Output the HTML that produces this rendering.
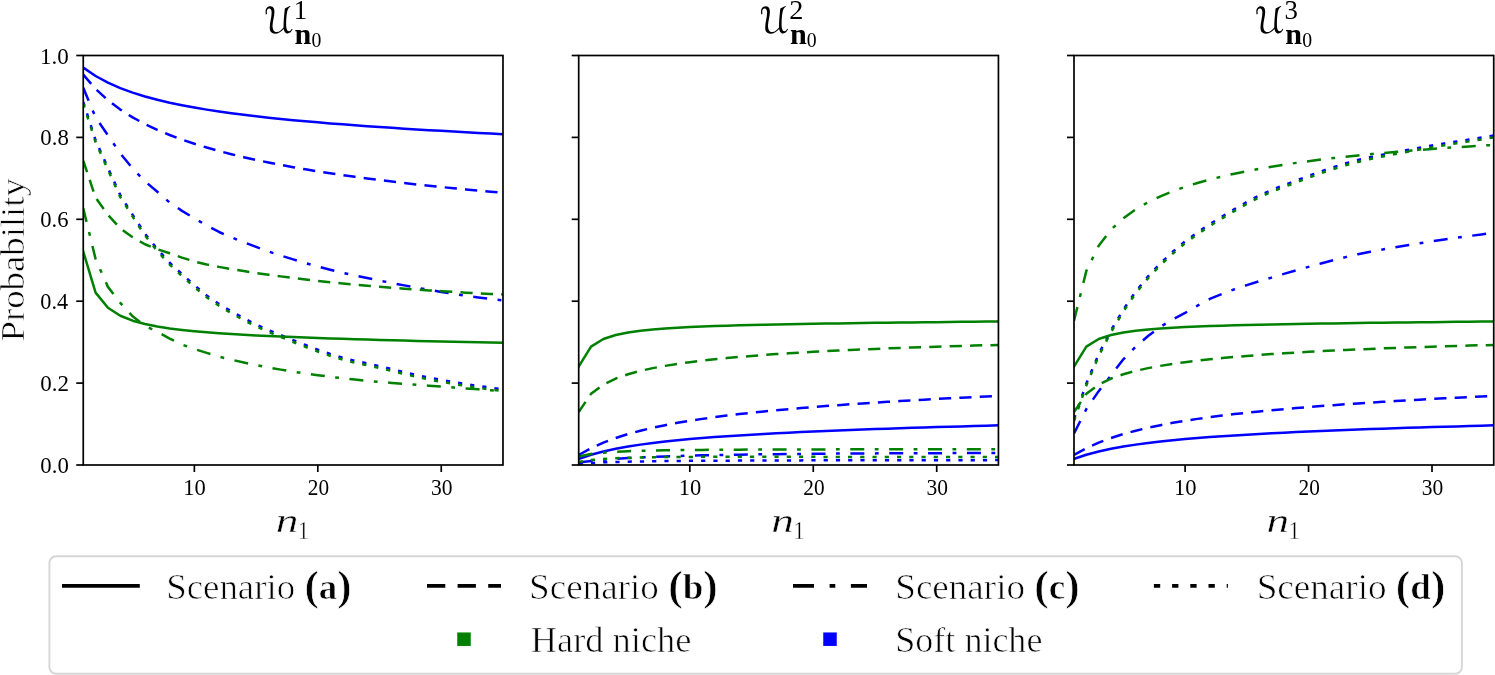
<!DOCTYPE html>
<html><head><meta charset="utf-8"><style>html,body{margin:0;padding:0;background:#fff;}svg{display:block;will-change:transform;}</style></head>
<body>
<svg width="1495" height="675" viewBox="0 0 1495 675">
<rect width="100%" height="100%" fill="#fff"/>
<defs>
<clipPath id="c0"><rect x="83.25" y="55.5" width="419.73" height="409.5"/></clipPath>
<clipPath id="c1"><rect x="578.70" y="55.5" width="419.73" height="409.5"/></clipPath>
<clipPath id="c2"><rect x="1074.00" y="55.5" width="419.73" height="409.5"/></clipPath>
</defs>
<g clip-path="url(#c0)" fill="none" stroke-width="2.5" stroke-linejoin="round">
<path d="M83.25,67.65 L95.59,76.02 L107.94,82.67 L120.28,88.10 L132.63,92.62 L144.97,96.47 L157.32,99.79 L169.67,102.70 L182.01,105.27 L194.36,107.57 L206.70,109.64 L219.05,111.52 L231.39,113.25 L243.74,114.83 L256.08,116.30 L268.43,117.67 L280.77,118.95 L293.12,120.15 L305.46,121.29 L317.81,122.36 L330.15,123.38 L342.50,124.35 L354.84,125.27 L367.19,126.16 L379.53,127.01 L391.88,127.83 L404.22,128.63 L416.56,129.39 L428.91,130.13 L441.25,130.84 L453.60,131.54 L465.94,132.22 L478.29,132.88 L490.64,133.52 L502.98,134.14" stroke="#0000ff" stroke-linecap="square"/>
<path d="M83.25,74.56 L95.59,88.99 L107.94,100.34 L120.28,109.60 L132.63,117.38 L144.97,124.04 L157.32,129.86 L169.67,135.00 L182.01,139.60 L194.36,143.76 L206.70,147.54 L219.05,151.01 L231.39,154.21 L243.74,157.17 L256.08,159.93 L268.43,162.50 L280.77,164.92 L293.12,167.20 L305.46,169.34 L317.81,171.37 L330.15,173.29 L342.50,175.11 L354.84,176.85 L367.19,178.50 L379.53,180.08 L391.88,181.59 L404.22,183.04 L416.56,184.42 L428.91,185.75 L441.25,187.03 L453.60,188.25 L465.94,189.43 L478.29,190.57 L490.64,191.67 L502.98,192.73" stroke="#0000ff" stroke-dasharray="12.2 8.2" stroke-linecap="butt"/>
<path d="M83.25,87.85 L95.59,117.33 L107.94,135.35 L120.28,153.37 L132.63,168.52 L144.97,181.22 L157.32,191.76 L169.67,202.51 L182.01,210.86 L194.36,218.28 L206.70,225.47 L219.05,231.98 L231.39,237.29 L243.74,242.24 L256.08,246.95 L268.43,251.40 L280.77,255.57 L293.12,259.43 L305.46,263.04 L317.81,266.46 L330.15,269.69 L342.50,272.70 L354.84,275.50 L367.19,278.08 L379.53,280.57 L391.88,283.00 L404.22,285.36 L416.56,287.64 L428.91,289.82 L441.25,291.90 L453.60,293.87 L465.94,295.71 L478.29,297.40 L490.64,298.95 L502.98,300.34" stroke="#0000ff" stroke-dasharray="14 10.5 3.8 10.55" stroke-linecap="butt"/>
<path d="M83.25,101.77 L95.59,140.27 L107.94,167.91 L120.28,195.14 L132.63,214.80 L144.97,233.63 L157.32,249.19 L169.67,262.71 L182.01,274.17 L194.36,285.23 L206.70,295.47 L219.05,303.99 L231.39,311.42 L243.74,318.26 L256.08,324.53 L268.43,330.08 L280.77,335.13 L293.12,340.14 L305.46,345.03 L317.81,349.65 L330.15,353.89 L342.50,357.72 L354.84,360.87 L367.19,363.33 L379.53,366.15 L391.88,369.14 L404.22,372.16 L416.56,375.04 L428.91,377.66 L441.25,379.93 L453.60,382.08 L465.94,384.10 L478.29,385.98 L490.64,387.70 L502.98,389.24" stroke="#0000ff" stroke-dasharray="4.2 8.05" stroke-linecap="butt"/>
<path d="M83.25,251.52 L95.59,292.65 L107.94,307.80 L120.28,315.74 L132.63,320.67 L144.97,324.05 L157.32,326.54 L169.67,328.46 L182.01,330.00 L194.36,331.27 L206.70,332.35 L219.05,333.28 L231.39,334.09 L243.74,334.82 L256.08,335.47 L268.43,336.06 L280.77,336.61 L293.12,337.11 L305.46,337.59 L317.81,338.03 L330.15,338.45 L342.50,338.84 L354.84,339.22 L367.19,339.58 L379.53,339.93 L391.88,340.26 L404.22,340.58 L416.56,340.90 L428.91,341.20 L441.25,341.49 L453.60,341.78 L465.94,342.06 L478.29,342.34 L490.64,342.61 L502.98,342.87" stroke="#008000" stroke-linecap="square"/>
<path d="M83.25,160.62 L95.59,197.68 L107.94,214.80 L120.28,228.31 L132.63,237.32 L144.97,244.28 L157.32,249.19 L169.67,253.29 L182.01,257.60 L194.36,261.48 L206.70,264.41 L219.05,266.88 L231.39,269.06 L243.74,271.08 L256.08,272.96 L268.43,274.72 L280.77,276.37 L293.12,277.94 L305.46,279.45 L317.81,280.89 L330.15,282.26 L342.50,283.54 L354.84,284.71 L367.19,285.77 L379.53,286.78 L391.88,287.74 L404.22,288.67 L416.56,289.55 L428.91,290.39 L441.25,291.19 L453.60,291.95 L465.94,292.65 L478.29,293.31 L490.64,293.93 L502.98,294.44" stroke="#008000" stroke-dasharray="12.2 8.2" stroke-linecap="butt"/>
<path d="M83.25,208.24 L95.59,259.02 L107.94,286.87 L120.28,302.84 L132.63,316.35 L144.97,325.77 L157.32,331.91 L169.67,338.56 L182.01,344.61 L194.36,349.06 L206.70,352.92 L219.05,356.64 L231.39,359.70 L243.74,362.49 L256.08,365.07 L268.43,367.45 L280.77,369.64 L293.12,371.63 L305.46,373.48 L317.81,375.19 L330.15,376.79 L342.50,378.26 L354.84,379.61 L367.19,380.83 L379.53,381.92 L391.88,382.92 L404.22,383.85 L416.56,384.75 L428.91,385.66 L441.25,386.59 L453.60,387.52 L465.94,388.43 L478.29,389.33 L490.64,390.21 L502.98,391.09" stroke="#008000" stroke-dasharray="14 10.5 3.8 10.55" stroke-linecap="butt"/>
<path d="M83.25,103.62 L95.59,142.11 L107.94,169.75 L120.28,196.98 L132.63,216.64 L144.97,235.48 L157.32,251.04 L169.67,264.55 L182.01,276.02 L194.36,287.07 L206.70,297.31 L219.05,305.83 L231.39,313.26 L243.74,320.11 L256.08,326.38 L268.43,331.92 L280.77,336.98 L293.12,341.99 L305.46,346.87 L317.81,351.49 L330.15,355.74 L342.50,359.56 L354.84,362.71 L367.19,365.17 L379.53,367.99 L391.88,370.98 L404.22,374.00 L416.56,376.89 L428.91,379.50 L441.25,381.78 L453.60,383.92 L465.94,385.95 L478.29,387.82 L490.64,389.54 L502.98,391.09" stroke="#008000" stroke-dasharray="4.2 8.05" stroke-linecap="butt"/>
</g>
<g clip-path="url(#c1)" fill="none" stroke-width="2.5" stroke-linejoin="round">
<path d="M578.70,458.90 L591.05,454.77 L603.39,451.48 L615.74,448.79 L628.08,446.54 L640.43,444.62 L652.77,442.96 L665.12,441.51 L677.46,440.22 L689.81,439.06 L702.15,438.02 L714.50,437.06 L726.84,436.19 L739.19,435.38 L751.53,434.64 L763.88,433.94 L776.22,433.28 L788.57,432.67 L800.91,432.08 L813.26,431.53 L825.60,431.00 L837.95,430.50 L850.29,430.02 L862.63,429.56 L874.98,429.11 L887.33,428.69 L899.67,428.27 L912.02,427.87 L924.36,427.48 L936.71,427.10 L949.05,426.74 L961.39,426.38 L973.74,426.03 L986.09,425.69 L998.43,425.36" stroke="#0000ff" stroke-linecap="square"/>
<path d="M578.70,455.00 L591.05,448.17 L603.39,442.61 L615.74,437.99 L628.08,434.07 L640.43,430.70 L652.77,427.76 L665.12,425.16 L677.46,422.84 L689.81,420.76 L702.15,418.87 L714.50,417.14 L726.84,415.55 L739.19,414.08 L751.53,412.72 L763.88,411.44 L776.22,410.25 L788.57,409.12 L800.91,408.06 L813.26,407.05 L825.60,406.09 L837.95,405.17 L850.29,404.29 L862.63,403.45 L874.98,402.64 L887.33,401.86 L899.67,401.11 L912.02,400.38 L924.36,399.67 L936.71,398.99 L949.05,398.32 L961.39,397.68 L973.74,397.04 L986.09,396.43 L998.43,395.83" stroke="#0000ff" stroke-dasharray="12.2 8.2" stroke-linecap="butt"/>
<path d="M578.70,462.43 L591.05,460.96 L603.39,459.79 L615.74,458.85 L628.08,458.07 L640.43,457.43 L652.77,456.88 L665.12,456.41 L677.46,456.01 L689.81,455.66 L702.15,455.35 L714.50,455.09 L726.84,454.85 L739.19,454.64 L751.53,454.45 L763.88,454.28 L776.22,454.14 L788.57,454.00 L800.91,453.88 L813.26,453.77 L825.60,453.68 L837.95,453.59 L850.29,453.51 L862.63,453.44 L874.98,453.38 L887.33,453.32 L899.67,453.27 L912.02,453.23 L924.36,453.18 L936.71,453.15 L949.05,453.12 L961.39,453.09 L973.74,453.06 L986.09,453.04 L998.43,453.03" stroke="#0000ff" stroke-dasharray="14 10.5 3.8 10.55" stroke-linecap="butt"/>
<path d="M578.70,463.67 L591.05,462.90 L603.39,462.36 L615.74,461.97 L628.08,461.67 L640.43,461.44 L652.77,461.25 L665.12,461.10 L677.46,460.97 L689.81,460.87 L702.15,460.78 L714.50,460.71 L726.84,460.64 L739.19,460.58 L751.53,460.53 L763.88,460.49 L776.22,460.45 L788.57,460.41 L800.91,460.38 L813.26,460.35 L825.60,460.33 L837.95,460.31 L850.29,460.28 L862.63,460.26 L874.98,460.25 L887.33,460.23 L899.67,460.21 L912.02,460.20 L924.36,460.19 L936.71,460.17 L949.05,460.16 L961.39,460.15 L973.74,460.14 L986.09,460.13 L998.43,460.12" stroke="#0000ff" stroke-dasharray="4.2 8.05" stroke-linecap="butt"/>
<path d="M578.70,366.58 L591.05,346.63 L603.39,339.04 L615.74,335.02 L628.08,332.52 L640.43,330.79 L652.77,329.52 L665.12,328.54 L677.46,327.76 L689.81,327.12 L702.15,326.57 L714.50,326.11 L726.84,325.70 L739.19,325.34 L751.53,325.02 L763.88,324.72 L776.22,324.46 L788.57,324.21 L800.91,323.98 L813.26,323.77 L825.60,323.57 L837.95,323.38 L850.29,323.20 L862.63,323.03 L874.98,322.86 L887.33,322.70 L899.67,322.55 L912.02,322.41 L924.36,322.27 L936.71,322.13 L949.05,322.00 L961.39,321.87 L973.74,321.74 L986.09,321.62 L998.43,321.50" stroke="#008000" stroke-linecap="square"/>
<path d="M578.70,411.98 L591.05,393.83 L603.39,384.51 L615.74,378.53 L628.08,374.21 L640.43,370.86 L652.77,368.14 L665.12,365.86 L677.46,363.89 L689.81,362.18 L702.15,360.65 L714.50,359.29 L726.84,358.06 L739.19,356.94 L751.53,355.92 L763.88,354.97 L776.22,354.10 L788.57,353.29 L800.91,352.54 L813.26,351.83 L825.60,351.17 L837.95,350.55 L850.29,349.97 L862.63,349.42 L874.98,348.90 L887.33,348.41 L899.67,347.94 L912.02,347.50 L924.36,347.08 L936.71,346.68 L949.05,346.29 L961.39,345.93 L973.74,345.58 L986.09,345.24 L998.43,344.92" stroke="#008000" stroke-dasharray="12.2 8.2" stroke-linecap="butt"/>
<path d="M578.70,456.49 L591.05,454.00 L603.39,452.63 L615.74,451.78 L628.08,451.22 L640.43,450.83 L652.77,450.54 L665.12,450.32 L677.46,450.15 L689.81,450.01 L702.15,449.90 L714.50,449.80 L726.84,449.72 L739.19,449.66 L751.53,449.60 L763.88,449.55 L776.22,449.51 L788.57,449.47 L800.91,449.44 L813.26,449.41 L825.60,449.38 L837.95,449.36 L850.29,449.33 L862.63,449.31 L874.98,449.30 L887.33,449.28 L899.67,449.26 L912.02,449.25 L924.36,449.24 L936.71,449.22 L949.05,449.21 L961.39,449.20 L973.74,449.19 L986.09,449.18 L998.43,449.17" stroke="#008000" stroke-dasharray="14 10.5 3.8 10.55" stroke-linecap="butt"/>
<path d="M578.70,461.95 L591.05,460.09 L603.39,458.96 L615.74,458.23 L628.08,457.76 L640.43,457.44 L652.77,457.22 L665.12,457.08 L677.46,456.97 L689.81,456.91 L702.15,456.86 L714.50,456.83 L726.84,456.82 L739.19,456.81 L751.53,456.81 L763.88,456.82 L776.22,456.82 L788.57,456.84 L800.91,456.85 L813.26,456.86 L825.60,456.88 L837.95,456.89 L850.29,456.91 L862.63,456.93 L874.98,456.94 L887.33,456.96 L899.67,456.98 L912.02,456.99 L924.36,457.01 L936.71,457.03 L949.05,457.04 L961.39,457.06 L973.74,457.07 L986.09,457.09 L998.43,457.10" stroke="#008000" stroke-dasharray="4.2 8.05" stroke-linecap="butt"/>
</g>
<g clip-path="url(#c2)" fill="none" stroke-width="2.5" stroke-linejoin="round">
<path d="M1074.00,458.90 L1086.35,454.77 L1098.69,451.48 L1111.04,448.79 L1123.38,446.54 L1135.72,444.62 L1148.07,442.96 L1160.41,441.51 L1172.76,440.22 L1185.11,439.06 L1197.45,438.02 L1209.80,437.06 L1222.14,436.19 L1234.49,435.38 L1246.83,434.64 L1259.17,433.94 L1271.52,433.28 L1283.87,432.67 L1296.21,432.08 L1308.56,431.53 L1320.90,431.00 L1333.24,430.50 L1345.59,430.02 L1357.93,429.56 L1370.28,429.11 L1382.62,428.69 L1394.97,428.27 L1407.32,427.87 L1419.66,427.48 L1432.01,427.10 L1444.35,426.74 L1456.69,426.38 L1469.04,426.03 L1481.38,425.69 L1493.73,425.36" stroke="#0000ff" stroke-linecap="square"/>
<path d="M1074.00,455.00 L1086.35,448.17 L1098.69,442.61 L1111.04,437.99 L1123.38,434.07 L1135.72,430.70 L1148.07,427.76 L1160.41,425.16 L1172.76,422.84 L1185.11,420.76 L1197.45,418.87 L1209.80,417.14 L1222.14,415.55 L1234.49,414.08 L1246.83,412.72 L1259.17,411.44 L1271.52,410.25 L1283.87,409.12 L1296.21,408.06 L1308.56,407.05 L1320.90,406.09 L1333.24,405.17 L1345.59,404.29 L1357.93,403.45 L1370.28,402.64 L1382.62,401.86 L1394.97,401.11 L1407.32,400.38 L1419.66,399.67 L1432.01,398.99 L1444.35,398.32 L1456.69,397.68 L1469.04,397.04 L1481.38,396.43 L1493.73,395.83" stroke="#0000ff" stroke-dasharray="12.2 8.2" stroke-linecap="butt"/>
<path d="M1074.00,433.47 L1086.35,409.06 L1098.69,391.15 L1111.04,375.29 L1123.38,359.34 L1135.72,346.77 L1148.07,336.05 L1160.41,326.91 L1172.76,319.29 L1185.11,312.95 L1197.45,305.70 L1209.80,298.95 L1222.14,293.81 L1234.49,289.25 L1246.83,285.13 L1259.17,281.30 L1271.52,277.60 L1283.87,273.90 L1296.21,270.29 L1308.56,266.83 L1320.90,263.50 L1333.24,260.27 L1345.59,257.12 L1357.93,254.24 L1370.28,251.77 L1382.62,249.47 L1394.97,247.32 L1407.32,245.27 L1419.66,243.29 L1432.01,241.36 L1444.35,239.52 L1456.69,237.75 L1469.04,236.05 L1481.38,234.40 L1493.73,232.81" stroke="#0000ff" stroke-dasharray="14 10.5 3.8 10.55" stroke-linecap="butt"/>
<path d="M1074.00,419.14 L1086.35,383.50 L1098.69,354.22 L1111.04,330.13 L1123.38,309.58 L1135.72,291.41 L1148.07,276.35 L1160.41,263.27 L1172.76,251.78 L1185.11,241.24 L1197.45,232.40 L1209.80,224.17 L1222.14,216.51 L1234.49,209.09 L1246.83,202.04 L1259.17,195.49 L1271.52,190.00 L1283.87,185.18 L1296.21,180.53 L1308.56,175.91 L1320.90,171.40 L1333.24,167.16 L1345.59,163.33 L1357.93,160.07 L1370.28,157.21 L1382.62,154.63 L1394.97,152.24 L1407.32,149.97 L1419.66,147.76 L1432.01,145.56 L1444.35,143.49 L1456.69,141.49 L1469.04,139.53 L1481.38,137.57 L1493.73,135.56" stroke="#0000ff" stroke-dasharray="4.2 8.05" stroke-linecap="butt"/>
<path d="M1074.00,366.58 L1086.35,346.63 L1098.69,339.04 L1111.04,335.02 L1123.38,332.52 L1135.72,330.79 L1148.07,329.52 L1160.41,328.54 L1172.76,327.76 L1185.11,327.12 L1197.45,326.57 L1209.80,326.11 L1222.14,325.70 L1234.49,325.34 L1246.83,325.02 L1259.17,324.72 L1271.52,324.46 L1283.87,324.21 L1296.21,323.98 L1308.56,323.77 L1320.90,323.57 L1333.24,323.38 L1345.59,323.20 L1357.93,323.03 L1370.28,322.86 L1382.62,322.70 L1394.97,322.55 L1407.32,322.41 L1419.66,322.27 L1432.01,322.13 L1444.35,322.00 L1456.69,321.87 L1469.04,321.74 L1481.38,321.62 L1493.73,321.50" stroke="#008000" stroke-linecap="square"/>
<path d="M1074.00,411.98 L1086.35,393.83 L1098.69,384.51 L1111.04,378.53 L1123.38,374.21 L1135.72,370.86 L1148.07,368.14 L1160.41,365.86 L1172.76,363.89 L1185.11,362.18 L1197.45,360.65 L1209.80,359.29 L1222.14,358.06 L1234.49,356.94 L1246.83,355.92 L1259.17,354.97 L1271.52,354.10 L1283.87,353.29 L1296.21,352.54 L1308.56,351.83 L1320.90,351.17 L1333.24,350.55 L1345.59,349.97 L1357.93,349.42 L1370.28,348.90 L1382.62,348.41 L1394.97,347.94 L1407.32,347.50 L1419.66,347.08 L1432.01,346.68 L1444.35,346.29 L1456.69,345.93 L1469.04,345.58 L1481.38,345.24 L1493.73,344.92" stroke="#008000" stroke-dasharray="12.2 8.2" stroke-linecap="butt"/>
<path d="M1074.00,320.74 L1086.35,270.90 L1098.69,245.70 L1111.04,229.68 L1123.38,218.20 L1135.72,209.36 L1148.07,202.24 L1160.41,196.30 L1172.76,191.24 L1185.11,186.85 L1197.45,182.99 L1209.80,179.55 L1222.14,176.47 L1234.49,173.68 L1246.83,171.14 L1259.17,168.82 L1271.52,166.68 L1283.87,164.71 L1296.21,162.88 L1308.56,161.18 L1320.90,159.60 L1333.24,158.11 L1345.59,156.72 L1357.93,155.42 L1370.28,154.19 L1382.62,153.03 L1394.97,151.93 L1407.32,150.89 L1419.66,149.91 L1432.01,148.97 L1444.35,148.08 L1456.69,147.23 L1469.04,146.43 L1481.38,145.65 L1493.73,144.92" stroke="#008000" stroke-dasharray="14 10.5 3.8 10.55" stroke-linecap="butt"/>
<path d="M1074.00,420.98 L1086.35,385.34 L1098.69,356.06 L1111.04,331.98 L1123.38,311.42 L1135.72,293.25 L1148.07,278.20 L1160.41,265.12 L1172.76,253.62 L1185.11,243.09 L1197.45,234.24 L1209.80,226.02 L1222.14,218.35 L1234.49,210.94 L1246.83,203.89 L1259.17,197.34 L1271.52,191.85 L1283.87,187.02 L1296.21,182.38 L1308.56,177.76 L1320.90,173.24 L1333.24,169.00 L1345.59,165.18 L1357.93,161.91 L1370.28,159.05 L1382.62,156.47 L1394.97,154.08 L1407.32,151.81 L1419.66,149.60 L1432.01,147.41 L1444.35,145.33 L1456.69,143.33 L1469.04,141.38 L1481.38,139.41 L1493.73,137.40" stroke="#008000" stroke-dasharray="4.2 8.05" stroke-linecap="butt"/>
</g>
<rect x="83.25" y="55.5" width="419.73" height="409.5" fill="none" stroke="#000" stroke-width="1.7" stroke-linejoin="miter"/>
<line x1="76.25" y1="465.00" x2="83.25" y2="465.00" stroke="#000" stroke-width="1.7"/>
<line x1="76.25" y1="383.10" x2="83.25" y2="383.10" stroke="#000" stroke-width="1.7"/>
<line x1="76.25" y1="301.20" x2="83.25" y2="301.20" stroke="#000" stroke-width="1.7"/>
<line x1="76.25" y1="219.30" x2="83.25" y2="219.30" stroke="#000" stroke-width="1.7"/>
<line x1="76.25" y1="137.40" x2="83.25" y2="137.40" stroke="#000" stroke-width="1.7"/>
<line x1="76.25" y1="55.50" x2="83.25" y2="55.50" stroke="#000" stroke-width="1.7"/>
<line x1="194.36" y1="465.0" x2="194.36" y2="472.00" stroke="#000" stroke-width="1.7"/>
<line x1="317.81" y1="465.0" x2="317.81" y2="472.00" stroke="#000" stroke-width="1.7"/>
<line x1="441.25" y1="465.0" x2="441.25" y2="472.00" stroke="#000" stroke-width="1.7"/>
<rect x="578.70" y="55.5" width="419.73" height="409.5" fill="none" stroke="#000" stroke-width="1.7" stroke-linejoin="miter"/>
<line x1="571.70" y1="465.00" x2="578.70" y2="465.00" stroke="#000" stroke-width="1.7"/>
<line x1="571.70" y1="383.10" x2="578.70" y2="383.10" stroke="#000" stroke-width="1.7"/>
<line x1="571.70" y1="301.20" x2="578.70" y2="301.20" stroke="#000" stroke-width="1.7"/>
<line x1="571.70" y1="219.30" x2="578.70" y2="219.30" stroke="#000" stroke-width="1.7"/>
<line x1="571.70" y1="137.40" x2="578.70" y2="137.40" stroke="#000" stroke-width="1.7"/>
<line x1="571.70" y1="55.50" x2="578.70" y2="55.50" stroke="#000" stroke-width="1.7"/>
<line x1="689.81" y1="465.0" x2="689.81" y2="472.00" stroke="#000" stroke-width="1.7"/>
<line x1="813.26" y1="465.0" x2="813.26" y2="472.00" stroke="#000" stroke-width="1.7"/>
<line x1="936.71" y1="465.0" x2="936.71" y2="472.00" stroke="#000" stroke-width="1.7"/>
<rect x="1074.00" y="55.5" width="419.73" height="409.5" fill="none" stroke="#000" stroke-width="1.7" stroke-linejoin="miter"/>
<line x1="1067.00" y1="465.00" x2="1074.00" y2="465.00" stroke="#000" stroke-width="1.7"/>
<line x1="1067.00" y1="383.10" x2="1074.00" y2="383.10" stroke="#000" stroke-width="1.7"/>
<line x1="1067.00" y1="301.20" x2="1074.00" y2="301.20" stroke="#000" stroke-width="1.7"/>
<line x1="1067.00" y1="219.30" x2="1074.00" y2="219.30" stroke="#000" stroke-width="1.7"/>
<line x1="1067.00" y1="137.40" x2="1074.00" y2="137.40" stroke="#000" stroke-width="1.7"/>
<line x1="1067.00" y1="55.50" x2="1074.00" y2="55.50" stroke="#000" stroke-width="1.7"/>
<line x1="1185.11" y1="465.0" x2="1185.11" y2="472.00" stroke="#000" stroke-width="1.7"/>
<line x1="1308.56" y1="465.0" x2="1308.56" y2="472.00" stroke="#000" stroke-width="1.7"/>
<line x1="1432.01" y1="465.0" x2="1432.01" y2="472.00" stroke="#000" stroke-width="1.7"/>
<text transform="translate(40.29,472.90) scale(1.0188,1)" font-family="Liberation Serif" font-size="22.4"  fill="#000">0.0</text>
<text transform="translate(40.28,391.00) scale(1.0276,1)" font-family="Liberation Serif" font-size="22.4"  fill="#000">0.2</text>
<text transform="translate(40.31,309.10) scale(0.9933,1)" font-family="Liberation Serif" font-size="22.4"  fill="#000">0.4</text>
<text transform="translate(40.29,227.20) scale(1.0101,1)" font-family="Liberation Serif" font-size="22.4"  fill="#000">0.6</text>
<text transform="translate(40.29,145.30) scale(1.0188,1)" font-family="Liberation Serif" font-size="22.4"  fill="#000">0.8</text>
<text transform="translate(40.03,64.30) scale(1.0284,1)" font-family="Liberation Serif" font-size="22.4"  fill="#000">1.0</text>
<text transform="translate(183.23,494.60) scale(1.0057,1)" font-family="Liberation Serif" font-size="22.4"  fill="#000">10</text>
<text transform="translate(307.85,494.60) scale(0.9511,1)" font-family="Liberation Serif" font-size="22.4"  fill="#000">20</text>
<text transform="translate(431.08,494.60) scale(0.9615,1)" font-family="Liberation Serif" font-size="22.4"  fill="#000">30</text>
<text transform="translate(678.68,494.60) scale(1.0057,1)" font-family="Liberation Serif" font-size="22.4"  fill="#000">10</text>
<text transform="translate(803.30,494.60) scale(0.9511,1)" font-family="Liberation Serif" font-size="22.4"  fill="#000">20</text>
<text transform="translate(926.53,494.60) scale(0.9615,1)" font-family="Liberation Serif" font-size="22.4"  fill="#000">30</text>
<text transform="translate(1173.98,494.60) scale(1.0057,1)" font-family="Liberation Serif" font-size="22.4"  fill="#000">10</text>
<text transform="translate(1298.60,494.60) scale(0.9511,1)" font-family="Liberation Serif" font-size="22.4"  fill="#000">20</text>
<text transform="translate(1421.83,494.60) scale(0.9615,1)" font-family="Liberation Serif" font-size="22.4"  fill="#000">30</text>
<text transform="translate(275.75,532.40) scale(1.3338,1)" font-family="Liberation Serif" font-size="34.0" font-style="italic" fill="#000" stroke="#fff" stroke-width="0.4">n</text>
<text transform="translate(298.03,538.60) scale(0.8800,1)" font-family="Liberation Serif" font-size="25.0"  fill="#000" stroke="#fff" stroke-width="0.4">1</text>
<text transform="translate(771.20,532.40) scale(1.3338,1)" font-family="Liberation Serif" font-size="34.0" font-style="italic" fill="#000" stroke="#fff" stroke-width="0.4">n</text>
<text transform="translate(793.49,538.60) scale(0.8800,1)" font-family="Liberation Serif" font-size="25.0"  fill="#000" stroke="#fff" stroke-width="0.4">1</text>
<text transform="translate(1266.50,532.40) scale(1.3338,1)" font-family="Liberation Serif" font-size="34.0" font-style="italic" fill="#000" stroke="#fff" stroke-width="0.4">n</text>
<text transform="translate(1288.79,538.60) scale(0.8800,1)" font-family="Liberation Serif" font-size="25.0"  fill="#000" stroke="#fff" stroke-width="0.4">1</text>
<g transform="translate(24.4,340.4) rotate(-90)"><text transform="translate(-1.10,0.00) scale(1.0818,1)" font-family="Liberation Serif" font-size="34.0"  fill="#000" stroke="#fff" stroke-width="0.6">Probability</text></g>
<path transform="translate(264.55,33.13) scale(0.04054,-0.03888)" d="M671 113C654 83 636 47 602 47C537 47 533 182 533 242C533 344 538 447 558 548C570 606 589 659 643 688L626 699C582 681 540 657 501 631C484 470 468 305 468 146C429 97 371 27 299 27C222 27 197 109 197 190C197 301 244 420 244 542C244 609 232 692 141 692C62 692 25 624 25 560C25 535 28 506 31 482L60 491C58 510 55 535 55 554C55 588 72 636 113 636C168 636 175 567 175 528C175 397 128 274 128 145C128 104 133 53 160 27C187 1 219 -16 257 -16C346 -16 418 44 472 107C483 59 506 -9 567 -9C627 -9 664 42 691 99Z" fill="#000"/>
<text transform="translate(293.80,18.60) scale(0.9626,1)" font-family="Liberation Serif" font-size="27.9"  fill="#000">1</text>
<text transform="translate(294.51,43.80) scale(1.0375,1)" font-family="Liberation Serif" font-size="29.1" font-weight="bold" fill="#000">n</text>
<text transform="translate(311.42,47.10) scale(0.9735,1)" font-family="Liberation Serif" font-size="20.3"  fill="#000">0</text>
<path transform="translate(760.00,33.13) scale(0.04054,-0.03888)" d="M671 113C654 83 636 47 602 47C537 47 533 182 533 242C533 344 538 447 558 548C570 606 589 659 643 688L626 699C582 681 540 657 501 631C484 470 468 305 468 146C429 97 371 27 299 27C222 27 197 109 197 190C197 301 244 420 244 542C244 609 232 692 141 692C62 692 25 624 25 560C25 535 28 506 31 482L60 491C58 510 55 535 55 554C55 588 72 636 113 636C168 636 175 567 175 528C175 397 128 274 128 145C128 104 133 53 160 27C187 1 219 -16 257 -16C346 -16 418 44 472 107C483 59 506 -9 567 -9C627 -9 664 42 691 99Z" fill="#000"/>
<text transform="translate(789.13,18.60) scale(1.0141,1)" font-family="Liberation Serif" font-size="27.9"  fill="#000">2</text>
<text transform="translate(789.96,43.80) scale(1.0375,1)" font-family="Liberation Serif" font-size="29.1" font-weight="bold" fill="#000">n</text>
<text transform="translate(806.87,47.10) scale(0.9735,1)" font-family="Liberation Serif" font-size="20.3"  fill="#000">0</text>
<path transform="translate(1255.30,33.13) scale(0.04054,-0.03888)" d="M671 113C654 83 636 47 602 47C537 47 533 182 533 242C533 344 538 447 558 548C570 606 589 659 643 688L626 699C582 681 540 657 501 631C484 470 468 305 468 146C429 97 371 27 299 27C222 27 197 109 197 190C197 301 244 420 244 542C244 609 232 692 141 692C62 692 25 624 25 560C25 535 28 506 31 482L60 491C58 510 55 535 55 554C55 588 72 636 113 636C168 636 175 567 175 528C175 397 128 274 128 145C128 104 133 53 160 27C187 1 219 -16 257 -16C346 -16 418 44 472 107C483 59 506 -9 567 -9C627 -9 664 42 691 99Z" fill="#000"/>
<text transform="translate(1284.52,18.60) scale(0.9616,1)" font-family="Liberation Serif" font-size="27.9"  fill="#000">3</text>
<text transform="translate(1285.26,43.80) scale(1.0375,1)" font-family="Liberation Serif" font-size="29.1" font-weight="bold" fill="#000">n</text>
<text transform="translate(1302.17,47.10) scale(0.9735,1)" font-family="Liberation Serif" font-size="20.3"  fill="#000">0</text>
<rect x="49.4" y="556.3" width="1412.5" height="117.4" rx="6.5" ry="6.5" fill="#fff" stroke="#d6d6d6" stroke-width="1.9"/>
<line x1="63.9" y1="585.8" x2="137.9" y2="585.8" stroke="#000" stroke-width="3.8" stroke-linecap="square"/>
<line x1="427.0" y1="585.8" x2="501.0" y2="585.8" stroke="#000" stroke-width="3.8" stroke-dasharray="18.3 12.3"/>
<line x1="793.0" y1="585.8" x2="867.0" y2="585.8" stroke="#000" stroke-width="3.8" stroke-dasharray="21 15.6 5.7 15.6"/>
<line x1="1153.9" y1="585.8" x2="1227.9" y2="585.8" stroke="#000" stroke-width="3.8" stroke-dasharray="6.3 11.9"/>
<rect x="457.25" y="632.45" width="13.5" height="13.5" fill="#008000"/>
<rect x="823.25" y="632.45" width="13.5" height="13.5" fill="#0000ff"/>
<text transform="translate(166.19,598.50) scale(1.0025,1)" font-family="Liberation Serif" font-size="36.8"  fill="#000" stroke="#fff" stroke-width="0.7">Scenario <tspan font-weight="bold"><tspan font-size="1.17em" dy="0.03em">(</tspan><tspan dy="-0.03em">a</tspan><tspan font-size="1.17em" dy="0.03em">)</tspan></tspan></text>
<text transform="translate(529.07,598.50) scale(1.0089,1)" font-family="Liberation Serif" font-size="36.8"  fill="#000" stroke="#fff" stroke-width="0.7">Scenario <tspan font-weight="bold"><tspan font-size="1.17em" dy="0.03em">(</tspan><tspan dy="-0.03em">b</tspan><tspan font-size="1.17em" dy="0.03em">)</tspan></tspan></text>
<text transform="translate(895.27,598.50) scale(1.0081,1)" font-family="Liberation Serif" font-size="36.8"  fill="#000" stroke="#fff" stroke-width="0.7">Scenario <tspan font-weight="bold"><tspan font-size="1.17em" dy="0.03em">(</tspan><tspan dy="-0.03em">c</tspan><tspan font-size="1.17em" dy="0.03em">)</tspan></tspan></text>
<text transform="translate(1256.67,598.50) scale(1.0089,1)" font-family="Liberation Serif" font-size="36.8"  fill="#000" stroke="#fff" stroke-width="0.7">Scenario <tspan font-weight="bold"><tspan font-size="1.17em" dy="0.03em">(</tspan><tspan dy="-0.03em">d</tspan><tspan font-size="1.17em" dy="0.03em">)</tspan></tspan></text>
<text transform="translate(530.71,651.50) scale(0.9895,1)" font-family="Liberation Serif" font-size="36.8"  fill="#000" stroke="#fff" stroke-width="0.7">Hard niche</text>
<text transform="translate(895.34,651.50) scale(0.9787,1)" font-family="Liberation Serif" font-size="36.8"  fill="#000" stroke="#fff" stroke-width="0.7">Soft niche</text>
</svg>
</body></html>
